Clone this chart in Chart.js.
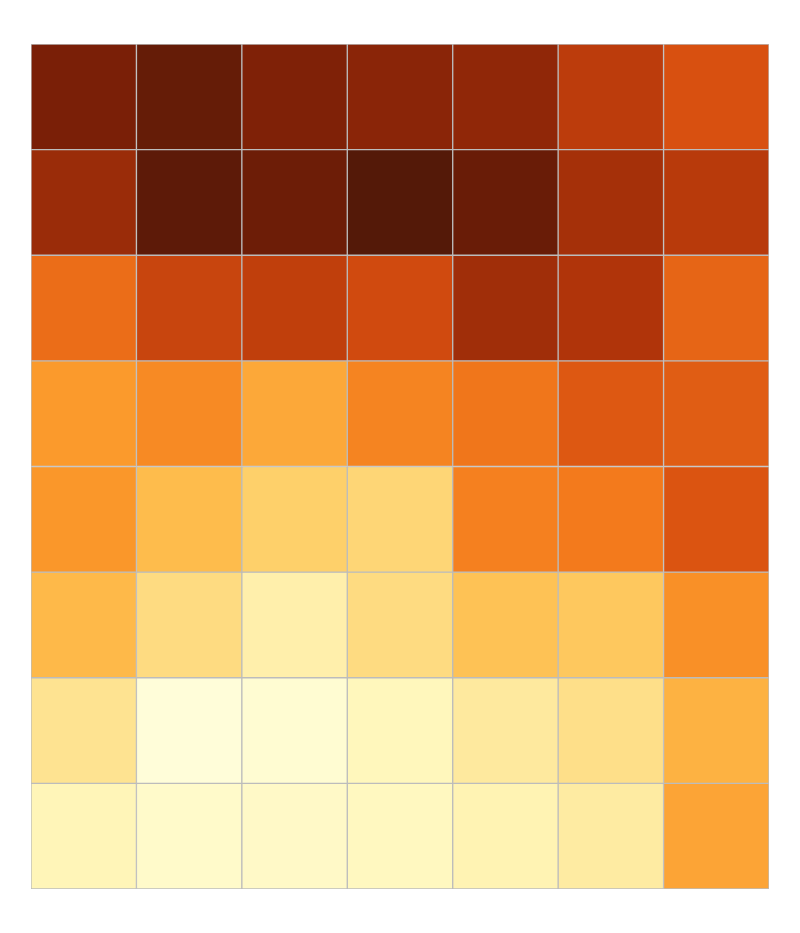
<!DOCTYPE html>
<html>
<head>
<meta charset="utf-8">
<script src="https://cdn.jsdelivr.net/npm/chart.js@4/dist/chart.umd.min.js"></script>
<style>
  html, body { margin: 0; padding: 0; background: #fff; }
  .heatContainer { width: 800px; height: 933px; position: relative; }
</style>
</head>
<body>
<div class="heatContainer"><canvas id="heatChart"></canvas></div>
<script>
"use strict";

// column and row labels (not shown in the picture)
var columns = ['C1', 'C2', 'C3', 'C4', 'C5', 'C6', 'C7'];
var rows = ['R1', 'R2', 'R3', 'R4', 'R5', 'R6', 'R7', 'R8'];

// one array per row, top to bottom, values 0..1
var row1 = [0.90, 0.95, 0.89, 0.87, 0.86, 0.77, 0.70];
var row2 = [0.84, 0.97, 0.93, 0.99, 0.94, 0.82, 0.78];
var row3 = [0.63, 0.74, 0.76, 0.72, 0.83, 0.80, 0.65];
var row4 = [0.50, 0.55, 0.46, 0.57, 0.61, 0.68, 0.67];
var row5 = [0.51, 0.40, 0.30, 0.27, 0.58, 0.60, 0.69];
var row6 = [0.41, 0.24, 0.14, 0.24, 0.37, 0.34, 0.53];
var row7 = [0.20, 0.02, 0.04, 0.10, 0.17, 0.22, 0.43];
var row8 = [0.11, 0.06, 0.07, 0.09, 0.12, 0.16, 0.47];
var values = [row1, row2, row3, row4, row5, row6, row7, row8];

// colour scale stops (yellow -> orange -> brown)
var scaleStops = [0, 0.1, 0.2, 0.3, 0.4, 0.5, 0.6, 0.7, 0.8, 0.9, 1];
var scaleColors = ['#ffffe0', '#fff7bc', '#fee391', '#fed06a', '#febc4c', '#fb9a2c',
                   '#f37a1c', '#d85010', '#b0340a', '#7a1f07', '#501808'];

var hexToRgb = function (h) {
  return [parseInt(h.substr(1, 2), 16), parseInt(h.substr(3, 2), 16), parseInt(h.substr(5, 2), 16)];
};

var colorFor = function (v) {
  for (let i = 1; i < scaleStops.length; i++) {
    if (v <= scaleStops[i]) {
      var t = (v - scaleStops[i - 1]) / (scaleStops[i] - scaleStops[i - 1]);
      var a = hexToRgb(scaleColors[i - 1]), b = hexToRgb(scaleColors[i]);
      var c = a.map(function (x, k) { return Math.round(x + (b[k] - x) * t); });
      return 'rgb(' + c.join(',') + ')';
    }
  }
  return scaleColors[scaleColors.length - 1];
};

var load_heat_chart = function () {
  var ctx = document.getElementById('heatChart').getContext('2d');
  var n = rows.length;
  var datasets = values.map(function (rowVals, r) {
    return {
      label: rows[r],
      data: rowVals.map(function () { return [n - r - 1, n - r]; }),
      backgroundColor: rowVals.map(colorFor),
      borderColor: '#bcbcbc',
      borderWidth: 1,
      borderSkipped: false,
      categoryPercentage: 1,
      barPercentage: 1,
      grouped: false
    };
  });

  return new Chart(ctx, {
    type: 'bar',
    data: { labels: columns, datasets: datasets },
    options: {
      responsive: true,
      maintainAspectRatio: false,
      animation: false,
      layout: { padding: { left: 31, right: 31, top: 44, bottom: 44 } },
      scales: {
        x: { display: false },
        y: { display: false, min: 0, max: n }
      },
      plugins: {
        legend: { display: false },
        tooltip: { enabled: false }
      }
    }
  });
};

load_heat_chart();
</script>
</body>
</html>
